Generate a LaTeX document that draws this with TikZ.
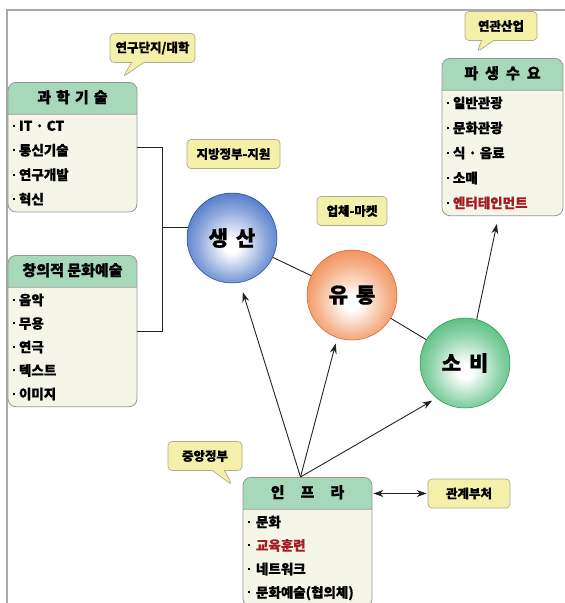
\documentclass[tikz,border=0pt]{standalone}
\usepackage{fontspec}
\newfontfamily\kr{Noto Sans CJK KR}[BoldFeatures={FakeBold=0.8}]
\usepackage{tikz}
\usetikzlibrary{arrows.meta,shapes.multipart,shapes.callouts}
\usepackage{xcolor}
\definecolor{hdrgreen}{RGB}{168,216,186}
\definecolor{bodycream}{RGB}{245,246,232}
\definecolor{boxgray}{RGB}{150,150,150}
\definecolor{framegray}{RGB}{170,170,170}
\definecolor{tagyellow}{RGB}{244,240,170}
\definecolor{taggray}{RGB}{175,172,140}
\definecolor{itemred}{RGB}{165,28,36}
\definecolor{linegray}{RGB}{35,35,35}
\definecolor{ballblue}{RGB}{32,84,186}
\definecolor{ballorange}{RGB}{238,112,40}
\definecolor{ballgreen}{RGB}{40,172,92}
\pgfdeclareradialshading{shadeblue}{\pgfpoint{0bp}{-5bp}}{color(0bp)=(white); color(4bp)=(white); color(20bp)=(ballblue!55); color(33bp)=(ballblue!90); color(50bp)=(ballblue)}
\pgfdeclareradialshading{shadeorange}{\pgfpoint{0bp}{-5bp}}{color(0bp)=(white); color(4bp)=(white); color(20bp)=(ballorange!55); color(33bp)=(ballorange!90); color(50bp)=(ballorange)}
\pgfdeclareradialshading{shadegreen}{\pgfpoint{0bp}{-5bp}}{color(0bp)=(white); color(4bp)=(white); color(20bp)=(ballgreen!55); color(33bp)=(ballgreen!90); color(50bp)=(ballgreen)}
\newcommand\boxhead[2]{\makebox[#1]{\fontsize{15}{15}\selectfont\rule[-5pt]{0pt}{19pt}#2}}
\newcommand\bul{\makebox[6pt][l]{\raisebox{4pt}{\rule{2pt}{2pt}}}}
\tikzstyle{arrow} = [line width=0.9pt,->,>={Stealth[length=10pt,width=7pt]},color=linegray]
\tikzstyle{dblarrow} = [arrow,<->]
\tikzstyle{link} = [line width=0.9pt,color=linegray]
\tikzstyle{listbox} = [rectangle split, rectangle split parts=2, draw=boxgray, line width=0.8pt, rounded corners=8pt, rectangle split part fill={hdrgreen,bodycream}, rectangle split part align={center,left}, inner xsep=5pt, inner ysep=6pt, align=left, anchor=north]
\tikzstyle{ball} = [circle, minimum size=90pt, inner sep=0pt, line width=0.5pt, font=\kr\bfseries\fontsize{21}{21}\selectfont]
\tikzstyle{tag} = [draw=taggray, fill=tagyellow, line width=0.7pt, rounded corners=4pt, minimum height=29pt, inner xsep=2pt, font=\kr\bfseries\fontsize{12.5}{12.5}\selectfont]
\tikzstyle{calltag} = [tag, rectangle callout, callout pointer width=12pt]

\begin{document}
\begin{tikzpicture}[x=1pt, y=-1pt]
\useasboundingbox (0,0) rectangle (565,603);
% Frame
\draw[framegray, line width=1.5pt] (565,10) -- (7,10) -- (7,603);

% Lists
\node[listbox, font=\kr\bfseries\fontsize{13.5}{24.5}\selectfont] (sci) at (72.5,82)
  {\boxhead{119pt}{과\hspace{5pt}학\hspace{5pt}기\hspace{5pt}술}\nodepart{two}\bul IT · CT\\\bul 통신기술\\\bul 연구개발\\\bul 혁신};
\node[listbox, font=\kr\bfseries\fontsize{13.5}{23.5}\selectfont] (art) at (72.5,255)
  {\boxhead{119pt}{창의적 문화예술}\nodepart{two}\bul 음악\\\bul 무용\\\bul 연극\\\bul 텍스트\\\bul 이미지};
\node[listbox, font=\kr\bfseries\fontsize{13.5}{25}\selectfont] (deriv) at (502.5,58)
  {\boxhead{111pt}{파\hspace{7pt}생\hspace{7pt}수\hspace{7pt}요}\nodepart{two}\bul 일반관광\\\bul 문화관광\\\bul 식 · 음료\\\bul 소매\\\bul\textcolor{itemred}{엔터테인먼트}};
\node[listbox, font=\kr\bfseries\fontsize{13.5}{23.5}\selectfont] (infra) at (307.5,477)
  {\boxhead{119pt}{인\hspace{16pt}프\hspace{16pt}라}\nodepart{two}\bul\hspace{2pt}문화\\\bul\hspace{2pt}\textcolor{itemred}{교육훈련}\\\bul\hspace{2pt}네트워크\\\bul\hspace{2pt}문화예술(협의체)};

% Balls
\node[ball, shading=shadeblue, draw=ballblue!80!black] (saengsan) at (232,238) {생\hspace{8pt}산};
\node[ball, shading=shadeorange, draw=ballorange!85!black] (yutong) at (352,295) {유\hspace{8pt}통};
\node[ball, shading=shadegreen, draw=ballgreen!85!black] (sobi) at (465,363) {소\hspace{8pt}비};

% Tags
\node[calltag, minimum width=85pt, callout absolute pointer={(123,77)}] (lab) at (152.5,48) {연구단지/대학};
\node[calltag, minimum width=72pt, callout absolute pointer={(477,52)}] (ind) at (501,26) {연관산업};
\node[calltag, minimum width=74pt, callout absolute pointer={(232,485)}] (gov) at (205,456) {중앙정부};
\node[tag, minimum width=93pt] (local) at (233.5,154) {지방정부-지원};
\node[tag, minimum width=70pt] (market) at (352,211) {업체-마켓};
\node[tag, minimum width=82pt] (guanbu) at (469,493.5) {관계부처};

% Connectors
\coordinate (brk) at (162,0);
\draw[link] (sci.east) -- (sci.east -| brk) -- (art.east -| brk) -- (art.east);
\draw[link] (brk |- saengsan.166) -- (saengsan.166);
\draw[link] (saengsan) -- (yutong);
\draw[link] (yutong) -- (sobi);

\coordinate (src) at ([xshift=-7pt]infra.north);
\draw[arrow, shorten >=10pt] (src) -- (saengsan.280);
\draw[arrow, shorten >=6pt] (src) -- (yutong.251);
\draw[arrow, shorten >=5pt] (src) -- (sobi.231);
\draw[arrow, shorten >=8pt] (sobi.75) -- ([xshift=-4pt]deriv.south);
\draw[dblarrow, shorten <=1pt, shorten >=1pt] (guanbu.west -| infra.east) -- (guanbu.west);
\end{tikzpicture}
\end{document}
